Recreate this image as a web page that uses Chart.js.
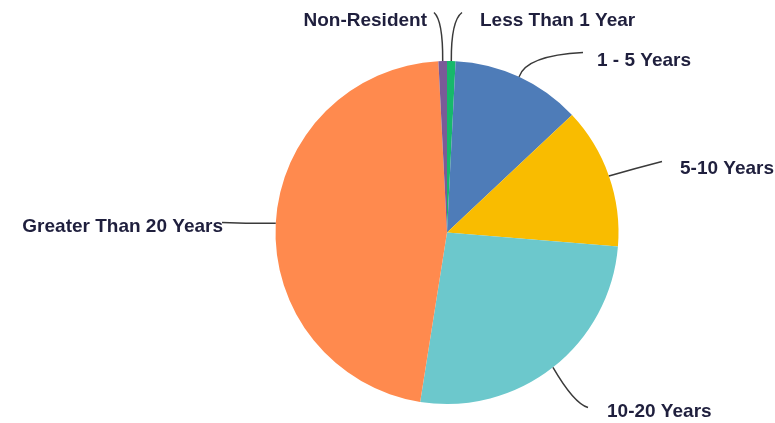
<!DOCTYPE html>
<html>
<head>
<meta charset="utf-8">
<script src="https://cdn.jsdelivr.net/npm/chart.js@4"></script>
<style>
  html, body { margin: 0; padding: 0; background: #fff; }
  #wrap { width: 775px; height: 423px; position: relative; }
</style>
</head>
<body>
<div id="wrap"><canvas id="c"></canvas></div>
<script>
// ---- data ----
const categories = ['Less Than 1 Year', '1 - 5 Years', '5-10 Years', '10-20 Years', 'Greater Than 20 Years', 'Non-Resident'];
const shares = [0.8, 12.2, 13.3, 26.2, 46.7, 0.8];
const sliceColors = ['#17b86b', '#4e7cb8', '#f9bc00', '#6cc8cc', '#ff8a4e', '#7a5b98'];

// ---- label layout (offsets from pie centre, in px) ----
// ctrl/end: leader-line control + end point; tx/ty: text anchor; align: text alignment
const labelLayout = [
  { ctrl: [4, -212],   end: [15, -220],  tx: 33,   ty: -212, align: 'left'  },
  { ctrl: [79, -177],  end: [136, -180], tx: 150,  ty: -172, align: 'left'  },
  { ctrl: [188, -64],  end: [215, -71],  tx: 233,  ty: -64,  align: 'left'  },
  { ctrl: [127, 171],  end: [141, 175],  tx: 160,  ty: 179,  align: 'left'  },
  { ctrl: [-197, -9],  end: [-225, -10], tx: -224, ty: -6,   align: 'right' },
  { ctrl: [-4, -212],  end: [-13, -220], tx: -20,  ty: -212, align: 'right' }
];

const leaderPlugin = {
  id: 'leaders',
  afterDatasetsDraw(chart) {
    const ctx = chart.ctx;
    const meta = chart.getDatasetMeta(0);
    ctx.save();
    meta.data.forEach((arc, i) => {
      const p = arc.getProps(['x', 'y', 'startAngle', 'endAngle', 'outerRadius'], true);
      const mid = (p.startAngle + p.endAngle) / 2;
      const ax = p.x + Math.cos(mid) * p.outerRadius;
      const ay = p.y + Math.sin(mid) * p.outerRadius;
      const L = labelLayout[i];
      ctx.beginPath();
      ctx.moveTo(ax, ay);
      ctx.quadraticCurveTo(p.x + L.ctrl[0], p.y + L.ctrl[1], p.x + L.end[0], p.y + L.end[1]);
      ctx.strokeStyle = '#3a3a3a';
      ctx.lineWidth = 1.5;
      ctx.stroke();
    });
    meta.data.forEach((arc, i) => {
      const p = arc.getProps(['x', 'y'], true);
      const L = labelLayout[i];
      ctx.font = 'bold 19px "Liberation Sans", Arial, sans-serif';
      ctx.fillStyle = '#1f1f3d';
      ctx.textAlign = L.align;
      ctx.textBaseline = 'middle';
      ctx.fillText(categories[i], p.x + L.tx, p.y + L.ty);
    });
    ctx.restore();
  }
};

new Chart(document.getElementById('c'), {
  type: 'pie',
  data: {
    labels: categories,
    datasets: [{
      data: shares,
      backgroundColor: sliceColors,
      borderWidth: 0,
      hoverOffset: 0,
      offset: 0
    }]
  },
  options: {
    responsive: true,
    maintainAspectRatio: false,
    animation: false,
    layout: { padding: { top: 61, bottom: 19, left: 200, right: 81 } },
    plugins: {
      legend: { display: false },
      tooltip: { enabled: false }
    }
  },
  plugins: [leaderPlugin]
});
</script>
</body>
</html>
